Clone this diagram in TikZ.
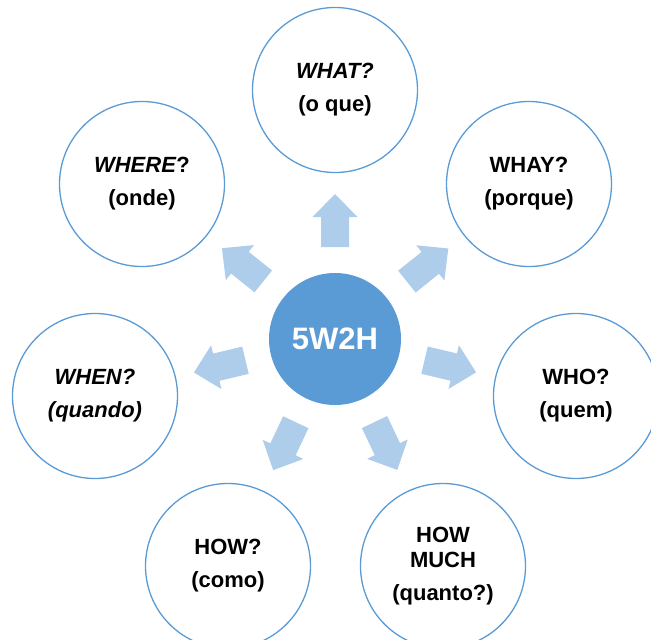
\documentclass[tikz,border=0pt]{standalone}
\usepackage{fontspec}
\setmainfont{Liberation Sans}
\usetikzlibrary{calc}
\definecolor{ringblue}{HTML}{5B9BD5}
\definecolor{arrowblue}{HTML}{AECDEA}
\tikzset{
  topic/.style={circle, draw=ringblue, line width=1.3pt, fill=white,
    minimum size=165pt, inner sep=0pt, align=center, text=black,
    font=\fontsize{22}{33}\selectfont\bfseries},
  hub/.style={circle, fill=ringblue, minimum size=132pt, inner sep=0pt,
    text=white, font=\fontsize{31}{36}\selectfont\bfseries},
  spokefill/.style={fill=arrowblue}
}
% block arrow from the hub towards a topic circle
\newcommand\spoke[1]{%
  \fill[spokefill]
    ($(c)!92pt!(#1)!14pt!90:(#1)$) --
    ($(c)!122pt!(#1)!14pt!90:(#1)$) --
    ($(c)!122pt!(#1)!22.5pt!90:(#1)$) --
    ($(c)!145pt!(#1)$) --
    ($(c)!122pt!(#1)!22.5pt!-90:(#1)$) --
    ($(c)!122pt!(#1)!14pt!-90:(#1)$) --
    ($(c)!92pt!(#1)!14pt!-90:(#1)$) -- cycle;}
\begin{document}
\begin{tikzpicture}[x=1pt,y=-1pt]
  \useasboundingbox (0,0) rectangle (651,640);
  \clip (0,0) rectangle (651,640);
  \node[hub] (c) at (335,339) {5W2H};
  \node[topic] (what)  at (335,90)  {\itshape WHAT?\\(o que)};
  \node[topic] (whay)  at (529,184) {WHAY?\\(porque)};
  \node[topic] (who)   at (576,396) {WHO?\\(quem)};
  \node[topic] (much)  at (443,566) {HOW\\[-8pt]MUCH\\(quanto?)};
  \node[topic] (how)   at (228,566) {HOW?\\(como)};
  \node[topic] (when)  at (95,396)  {\itshape WHEN?\\\itshape(quando)};
  \node[topic] (where) at (142,184) {\textit{WHERE}?\\(onde)};
  \spoke{what}
  \spoke{whay}
  \spoke{who}
  \spoke{much}
  \spoke{how}
  \spoke{when}
  \spoke{where}
\end{tikzpicture}
\end{document}
